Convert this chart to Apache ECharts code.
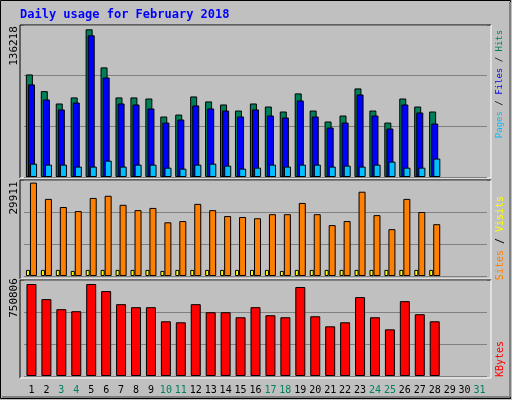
<!DOCTYPE html>
<html><head><meta charset="utf-8">
<script src="https://cdn.jsdelivr.net/npm/echarts@6/dist/echarts.min.js"></script>
<style>body{margin:0}#c{width:512px;height:400px}</style></head>
<body><div id="c"></div>
<script>
var days = [];
for (var d = 1; d <= 31; d++) days.push(String(d));
var weekend = ['3','4','10','11','17','18','24','25','31'];

var hits  = [94600,79200,67800,73400,136218,101100,73400,73400,72400,55800,57600,74300,69700,66900,61300,67800,65000,60400,77100,61300,51200,56700,81700,61300,50200,72400,65000,60400];
var files = [85400,71500,62300,68700,130700,91800,67800,66900,63200,50200,53000,66000,63200,61300,55800,62300,56700,54900,70600,55800,45600,50200,76100,56700,44700,66900,59500,49300];
var pages = [12300,11400,11400,9600,9600,15100,9600,11400,11400,8600,7700,11400,12300,10500,7700,8600,11400,9600,11400,11400,9600,10500,9600,11400,14200,8600,8600,17000];
var sites = [29911,24700,22100,20800,25000,25700,22800,21100,21800,17200,17600,23100,21100,19200,18900,18500,19800,19800,23400,19800,16300,17600,27000,19500,15000,24700,20500,16600];
var visits = [1950,1950,1950,1630,1950,1950,1950,1950,1950,1630,1950,1950,1950,1950,1950,1950,1950,1630,1950,1950,1950,1950,1950,1950,1950,1950,1950,1950];
var kbytes = [750806,627500,545300,528800,750800,693200,586400,561700,561700,446600,438400,586400,520600,520600,479500,561700,495900,479500,726100,487700,405500,438400,643900,479500,380900,611000,504200,446600];

var font = 'DejaVu Sans Mono';
var chart = echarts.init(document.getElementById('c'));

function yax(i, max) {
  return {gridIndex: i, min: 0, max: max, interval: max / 3,
    axisLabel: {show: false}, axisTick: {show: false}, axisLine: {show: false},
    splitLine: {lineStyle: {color: '#808080', width: 1}}};
}
function xax(i, lab) {
  return {gridIndex: i, type: 'category', data: days, axisTick: {show: false},
    axisLine: {show: false}, splitLine: {show: false},
    axisLabel: lab ? {show: true, interval: 0, margin: 9, fontFamily: font, fontSize: 10,
      formatter: function (v) { return weekend.indexOf(v) >= 0 ? '{w|' + v + '}' : '{n|' + v + '}'; },
      rich: {n: {color: '#000', fontFamily: font, fontSize: 10}, w: {color: '#008060', fontFamily: font, fontSize: 10}}} : {show: false}};
}
var bs = {borderColor: '#000', borderWidth: 1};
function frame(y, h) {
  return {type: 'group', children: [
    {type: 'line', shape: {x1: 20, y1: y, x2: 491, y2: y}, style: {stroke: '#000'}},
    {type: 'line', shape: {x1: 20, y1: y, x2: 20, y2: y + h}, style: {stroke: '#000'}},
    {type: 'line', shape: {x1: 20, y1: y + h, x2: 491, y2: y + h}, style: {stroke: '#fff'}},
    {type: 'line', shape: {x1: 491, y1: y, x2: 491, y2: y + h}, style: {stroke: '#fff'}}
  ]};
}
function vtext(x, y, txt, rich, size) {
  return {type: 'text', x: x, y: y, rotation: Math.PI / 2,
    style: {text: txt, rich: rich, fontFamily: font, fontSize: size || 12, fill: '#000', align: 'center', verticalAlign: 'middle'}};
}
function rs(c, s) { return {fill: c, fontFamily: font, fontSize: s}; }

chart.setOption({
  backgroundColor: '#c0c0c0',
  animation: false,
  grid: [
    {left: 24, right: 25, top: 25, height: 152},
    {left: 24, right: 25, top: 180, height: 96},
    {left: 24, right: 25, top: 280, height: 96}
  ],
  xAxis: [xax(0, false), xax(1, false), xax(2, true)],
  yAxis: [yax(0, 140200), yax(1, 30750), yax(2, 783600)],
  series: [
    {type: 'bar', name: 'Hits', data: hits, xAxisIndex: 0, yAxisIndex: 0, barWidth: 7, barGap: '-70%', itemStyle: Object.assign({color: '#00805a'}, bs)},
    {type: 'bar', name: 'Files', data: files, xAxisIndex: 0, yAxisIndex: 0, barWidth: 7, barGap: '-70%', itemStyle: Object.assign({color: '#0000ff'}, bs)},
    {type: 'bar', name: 'Pages', data: pages, xAxisIndex: 0, yAxisIndex: 0, barWidth: 7, barGap: '-70%', itemStyle: Object.assign({color: '#00c0ff'}, bs)},
    {type: 'bar', name: 'Visits', data: visits, xAxisIndex: 1, yAxisIndex: 1, barWidth: 4, barGap: '0%', itemStyle: Object.assign({color: '#ffff00'}, bs)},
    {type: 'bar', name: 'Sites', data: sites, xAxisIndex: 1, yAxisIndex: 1, barWidth: 7, barGap: '0%', itemStyle: Object.assign({color: '#ff8000'}, bs)},
    {type: 'bar', name: 'KBytes', data: kbytes, xAxisIndex: 2, yAxisIndex: 2, barWidth: 10, itemStyle: Object.assign({color: '#ff0000'}, bs)}
  ],
  graphic: [
    {type: 'rect', shape: {x: 0.5, y: 0.5, width: 510, height: 398}, style: {fill: 'none', stroke: '#000', lineWidth: 1}},
    {type: 'line', shape: {x1: 2, y1: 397, x2: 510, y2: 397}, style: {stroke: '#808080', lineWidth: 2}},
    {type: 'line', shape: {x1: 510, y1: 2, x2: 510, y2: 397}, style: {stroke: '#808080', lineWidth: 2}},
    {type: 'text', x: 20, y: 9, style: {text: 'Daily usage for February 2018', fontFamily: font, fontWeight: 'bold', fontSize: 12, fill: '#0000ff'}},
    frame(25, 153), frame(180, 99), frame(280, 98),
    vtext(14, 46, '136218', null, 11), vtext(14, 198, '29911', null, 11), vtext(14, 298, '750806', null, 11),
    vtext(500, 84, '{p|Pages}{s| / }{f|Files}{s| / }{h|Hits}', {
      p: rs('#00c0ff', 9), s: rs('#000', 9), f: rs('#0000ff', 9), h: rs('#00805a', 9)}, 9),
    vtext(500, 238, '{o|Sites}{s| / }{y|Visits}', {
      o: rs('#ff8000', 10), s: rs('#000', 10), y: rs('#ffff00', 10)}, 10),
    vtext(500, 359, '{r|KBytes}', {r: rs('#ff0000', 10)}, 10)
  ]
});
</script></body></html>
